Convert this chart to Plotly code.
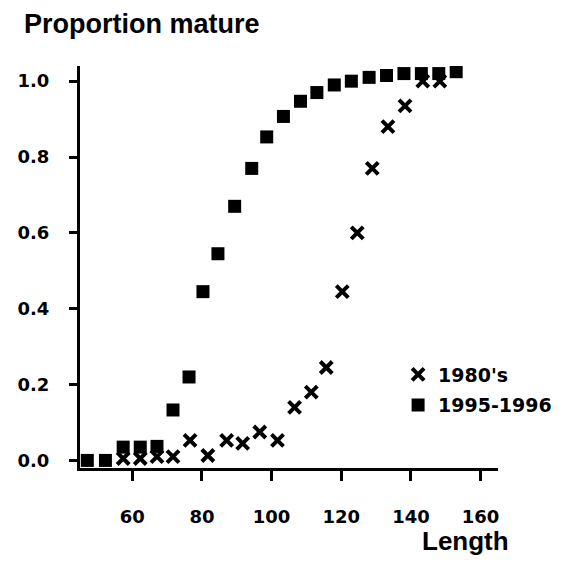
import plotly.graph_objects as go

# 1995-1996 (squares)
len_9596 = [47.1, 52.3, 57.4, 62.3, 67.1, 71.7, 76.3, 80.3, 84.6, 89.4, 94.3, 98.6,
            103.4, 108.3, 113.0, 118.0, 122.9, 128.0, 133.0, 138.0, 143.0, 148.0, 153.0]
prop_9596 = [0.0, 0.0, 0.035, 0.035, 0.037, 0.133, 0.22, 0.445, 0.545, 0.67, 0.77, 0.853,
             0.907, 0.947, 0.97, 0.99, 1.0, 1.01, 1.015, 1.02, 1.02, 1.02, 1.025]

# 1980's (crosses)
len_80s = [57.4, 62.3, 67.1, 71.7, 76.6, 81.7, 87.1, 91.7, 96.6, 101.7, 106.6, 111.4,
           115.7, 120.3, 124.6, 128.9, 133.4, 138.3, 143.4, 148.3]
prop_80s = [0.005, 0.005, 0.01, 0.01, 0.053, 0.013, 0.053, 0.045, 0.075, 0.053, 0.14, 0.18,
            0.245, 0.445, 0.6, 0.77, 0.88, 0.935, 1.0, 1.0]

x_ticks = [60, 80, 100, 120, 140, 160]
y_ticks = [0.0, 0.2, 0.4, 0.6, 0.8, 1.0]
y_tick_labels = ["0.0", "0.2", "0.4", "0.6", "0.8", "1.0"]

FONT = "Liberation Sans"
NUMFONT = "DejaVu Sans"

fig = go.Figure()
fig.add_trace(go.Scatter(
    x=len_80s, y=prop_80s, mode="markers", name="1980's", legendgroup="a",
    marker=dict(symbol="x-thin", size=12, color="black", line=dict(width=4, color="black")),
))
fig.add_trace(go.Scatter(
    x=len_9596, y=prop_9596, mode="markers", name="1995-1996", legendgroup="b",
    marker=dict(symbol="square", size=13, color="black"),
))

fig.update_layout(
    width=569, height=568,
    margin=dict(l=80, r=71, t=66, b=100),
    paper_bgcolor="white", plot_bgcolor="white",
    showlegend=True,
    legend=dict(x=0.761, y=0.28, xanchor="left", yanchor="top",
                font=dict(family=NUMFONT, size=19, color="black", weight="bold"),
                bgcolor="rgba(0,0,0,0)", tracegroupgap=3, itemwidth=30),
    font=dict(family=FONT, color="black"),
)
fig.update_xaxes(
    range=[45, 165], tickvals=x_ticks, ticktext=[str(v) for v in x_ticks],
    showgrid=False, zeroline=False, showline=True, linecolor="black", linewidth=3,
    ticks="outside", ticklen=10, tickwidth=3, tickcolor="black",
    ticklabelstandoff=20,
    tickfont=dict(family=NUMFONT, size=18, color="black", weight="bold"),
)
fig.update_yaxes(
    range=[-0.02, 1.04], tickvals=y_ticks, ticktext=y_tick_labels,
    showgrid=False, zeroline=False, showline=True, linecolor="black", linewidth=3,
    ticks="outside", ticklen=8, tickwidth=3, tickcolor="black",
    ticklabelstandoff=16,
    tickfont=dict(family=NUMFONT, size=18, color="black", weight="bold"),
)
fig.add_annotation(
    text="Proportion mature", xref="paper", yref="paper",
    x=-0.139, y=1.104, xanchor="left", yanchor="middle", showarrow=False,
    font=dict(family=FONT, size=27, color="black", weight="bold"),
)
fig.add_annotation(
    text="Length", xref="paper", yref="paper",
    x=0.813, y=-0.182, xanchor="left", yanchor="middle", showarrow=False,
    font=dict(family=FONT, size=26, color="black", weight="bold"),
)

fig.write_html("out.html")
